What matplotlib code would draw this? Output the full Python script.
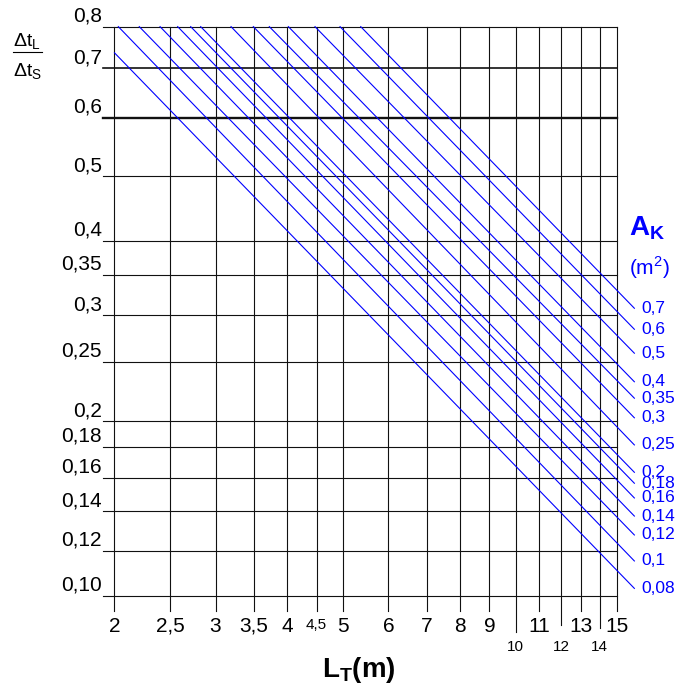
import numpy as np
import matplotlib
matplotlib.use('Agg')
import matplotlib.pyplot as plt
from matplotlib import transforms
from matplotlib.lines import Line2D

plt.rcParams['font.family'] = ['Liberation Sans', 'DejaVu Sans']
plt.rcParams['mathtext.fontset'] = 'custom'
plt.rcParams['mathtext.rm'] = 'Liberation Sans'
plt.rcParams['mathtext.bf'] = 'Liberation Sans:bold'

# Pipe length grid L_T (m)
lengths = [2, 2.5, 3, 3.5, 4, 4.5, 5, 6, 7, 8, 9, 10, 11, 12, 13, 14, 15]
length_labels = ['2', '2,5', '3', '3,5', '4', '4,5', '5', '6', '7', '8', '9',
                 '10', '11', '12', '13', '14', '15']
small_lengths = [4.5, 10, 12, 14]

# Temperature ratio grid dt_L / dt_S
ratios = [0.10, 0.12, 0.14, 0.16, 0.18, 0.20, 0.25, 0.30, 0.35, 0.40, 0.50, 0.60, 0.70, 0.80]
ratio_labels = ['0,10', '0,12', '0,14', '0,16', '0,18', '0,2', '0,25', '0,3', '0,35',
                '0,4', '0,5', '0,6', '0,7', '0,8']
# spacing of the ratio rulings on the printed nomogram (0 = bottom, 1 = top)
ratio_gauge = np.array([0, 45.0, 84.4, 118.0, 149.0, 174.7, 234.0, 280.7, 321.0,
                        355.0, 419.7, 478.0, 527.4, 569.0]) / 569.0

# A_K lines: start point and end point
areas = [0.08, 0.1, 0.12, 0.14, 0.16, 0.18, 0.2, 0.25, 0.3, 0.35, 0.4, 0.5, 0.6, 0.7]
start_length = [2.0, 2.031, 2.209, 2.401, 2.577, 2.715, 2.826, 3.192, 3.491, 3.722,
                4.018, 4.471, 4.943, 5.371]
start_ratio = [0.7355, 0.8, 0.8, 0.8, 0.8, 0.8, 0.8, 0.8, 0.8, 0.8, 0.8, 0.8, 0.8, 0.8]
end_length = 16.1
end_ratio = [0.1030, 0.1151, 0.1276, 0.1374, 0.1476, 0.1565, 0.1633, 0.1813, 0.2024,
             0.2179, 0.2318, 0.2584, 0.2837, 0.3078]

log_ratios = np.log10(ratios)


def _interp(v, xp, fp):
    v = np.asarray(v, dtype=float)
    out = np.interp(v, xp, fp)
    lo = (fp[1] - fp[0]) / (xp[1] - xp[0])
    hi = (fp[-1] - fp[-2]) / (xp[-1] - xp[-2])
    out = np.where(v < xp[0], fp[0] + (v - xp[0]) * lo, out)
    out = np.where(v > xp[-1], fp[-1] + (v - xp[-1]) * hi, out)
    return out


def ratio_forward(r):
    return _interp(np.log10(np.maximum(r, 1e-9)), log_ratios, ratio_gauge)


def ratio_inverse(g):
    return 10 ** _interp(g, ratio_gauge, log_ratios)


fig = plt.figure(figsize=(6.91, 6.85), dpi=100)
ax = fig.add_axes([0.1657, 0.1304, 0.7268, 0.8307])
ax.set_xscale('log')
ax.set_yscale('function', functions=(ratio_forward, ratio_inverse))
ax.set_xlim(2, 15)
ax.set_ylim(0.10, 0.80)
ax.set_axis_off()

# horizontal rulings, reaching a little past the left edge
heavy = {0.6: 1.7, 0.7: 1.2}
for r in ratios:
    ax.axhline(r, xmin=-0.0223, xmax=1, color='#111111', lw=heavy.get(r, 0.8),
               clip_on=False, zorder=1)

# vertical rulings, hanging below the bottom as tick marks
drop = {10: 0.063, 12: 0.051, 14: 0.057}
for x in lengths:
    ax.axvline(x, ymin=-drop.get(x, 0.027), ymax=1, color='#111111', lw=0.8,
               clip_on=False, zorder=1)

# ratio labels sit just above their ruling
ytrans = transforms.offset_copy(ax.get_yaxis_transform(), fig=fig, x=0, y=4.7, units='dots')
for r, lab in zip(ratios, ratio_labels):
    ax.text(-0.0255, r, lab, transform=ytrans, ha='right', va='baseline', fontsize=15)

xtrans = ax.get_xaxis_transform()
for x, lab in zip(lengths, length_labels):
    if x in (10, 12, 14):
        ax.text(x, -0.0967, lab, transform=xtrans, ha='center', va='baseline', fontsize=11)
    elif x == 4.5:
        ax.text(x, -0.059, lab, transform=xtrans, ha='center', va='baseline', fontsize=11)
    else:
        ax.text(x, -0.0633, lab, transform=xtrans, ha='center', va='baseline', fontsize=15)

# A_K lines
for i, a in enumerate(areas):
    ax.plot([start_length[i], end_length], [start_ratio[i], end_ratio[i]],
            color='blue', lw=0.8, clip_on=False, zorder=2)
    ax.annotate(str(a).replace('.', ','), xy=(end_length, end_ratio[i]),
                xytext=(5.3, 0), textcoords='offset points', color='blue',
                fontsize=12.5, ha='left', va='center', annotation_clip=False)

fig.text(647 / 691, 0.657, r'A$_\mathregular{K}$', color='blue', fontsize=20,
         fontweight='bold', ha='center', va='baseline')
fig.text(649 / 691, 0.5985, r'(m$^\mathregular{2}$)', color='blue', fontsize=15,
         ha='center', va='baseline')

# ratio title as a stacked fraction
fig.text(12.7 / 691, 0.9318, r'Δt$_\mathregular{L}$', fontsize=14, ha='left', va='baseline')
fig.add_artist(Line2D([12.7 / 691, 41.7 / 691], [1 - 52.3 / 685] * 2,
                      color='black', lw=0.8, transform=fig.transFigure))
fig.text(12.7 / 691, 0.888, r'Δt$_\mathregular{S}$', fontsize=14, ha='left', va='baseline')

fig.text(358.4 / 691, 0.0121, r'L$_\mathregular{T}$(m)', fontsize=20, fontweight='bold',
         ha='center', va='baseline')

fig.savefig('out.png', dpi=100)
plt.close(fig)
